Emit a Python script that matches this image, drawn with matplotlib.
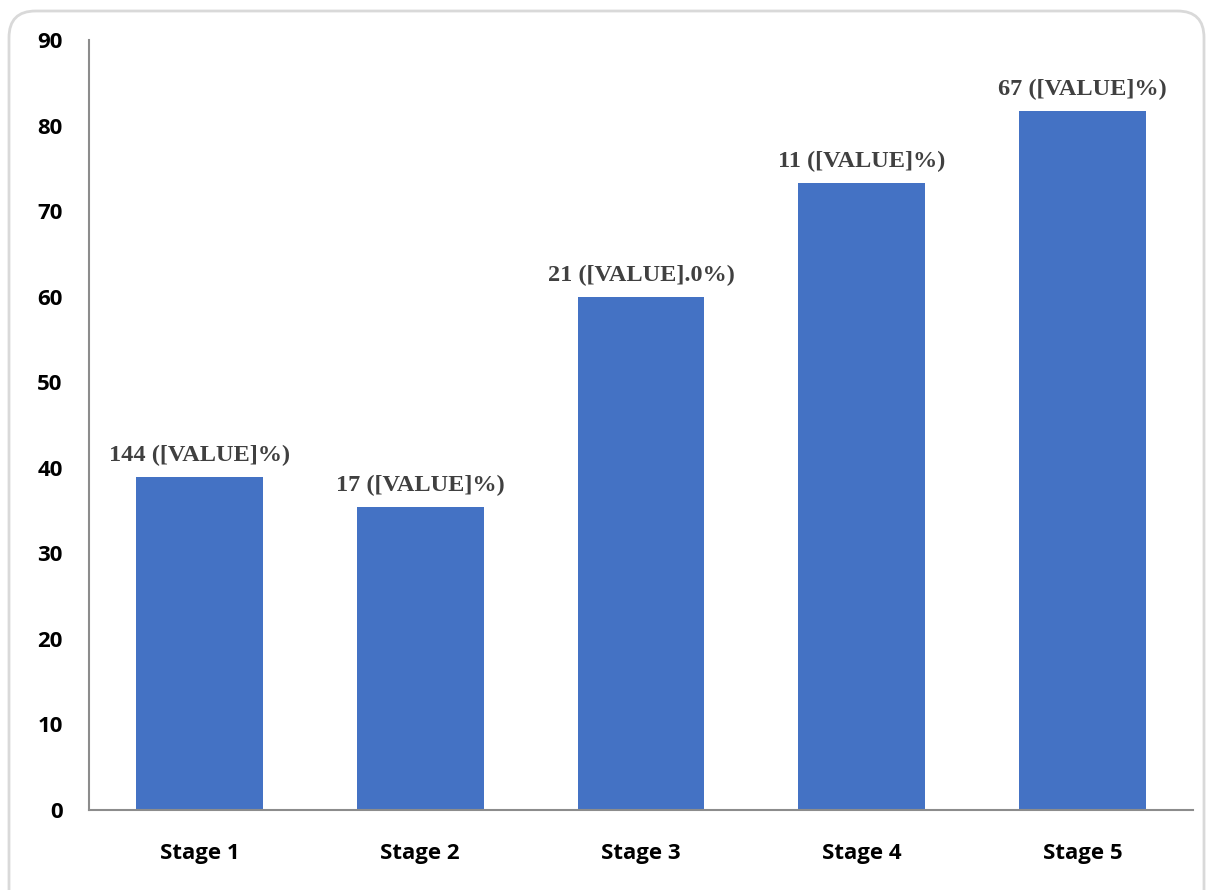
import matplotlib.pyplot as plt
from matplotlib.patches import FancyBboxPatch

# Данные по стадиям
stages = ['Stage 1', 'Stage 2', 'Stage 3', 'Stage 4', 'Stage 5']
values = [38.9, 35.4, 60.0, 73.3, 81.7]
bar_labels = ['144 ([VALUE]%)', '17 ([VALUE]%)', '21 ([VALUE].0%)',
              '11 ([VALUE]%)', '67 ([VALUE]%)']

fig = plt.figure(figsize=(12.08, 8.9), dpi=100)

# Рамка вокруг области диаграммы со скруглёнными углами
W, H = 1208, 890
frame = FancyBboxPatch((9 / W, -40 / H), 1195 / W, 919 / H,
                       boxstyle='round,pad=0,rounding_size=0.022',
                       transform=fig.transFigure, facecolor='none',
                       edgecolor='#d9d9d9', linewidth=2, zorder=-1,
                       mutation_aspect=W / H)
fig.patches.append(frame)

ax = fig.add_axes([89 / W, 1 - 810 / H, (1193 - 89) / W, (810 - 40) / H])
ax.patch.set_visible(False)

x = range(len(stages))
bars = ax.bar(x, values, width=0.575, color='#4472c4', zorder=2)

for bar, lbl in zip(bars, bar_labels):
    ax.annotate(lbl, (bar.get_x() + bar.get_width() / 2, bar.get_height()),
                xytext=(0, 8), textcoords='offset points', ha='center',
                va='bottom', fontsize=17.5, fontweight='bold',
                family='Liberation Serif', color='#404040')

ax.set_xlim(-0.5, len(stages) - 0.5)
ax.set_ylim(0, 90)
ax.set_yticks(range(0, 91, 10))
ax.set_xticks(list(x))
ax.set_xticklabels(stages)

for t in ax.get_xticklabels() + ax.get_yticklabels():
    t.set_fontfamily('Open Sans')
    t.set_fontweight('bold')
    t.set_fontsize(16)
    t.set_color('black')

ax.tick_params(axis='both', length=0)
ax.tick_params(axis='x', pad=24)
ax.tick_params(axis='y', pad=19)

for spine in ax.spines.values():
    if spine.spine_type in ('left', 'bottom'):
        spine.set_linewidth(1.5)
        spine.set_color('#8c8c8c')
    else:
        spine.set_visible(False)

fig.savefig('out.png', dpi=100)
